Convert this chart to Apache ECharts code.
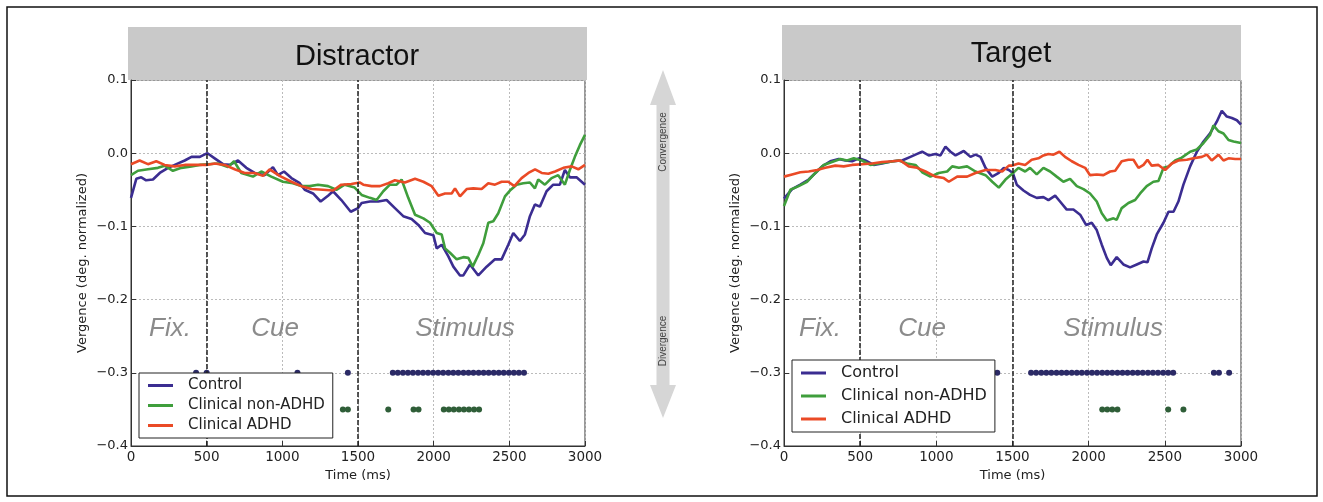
<!DOCTYPE html>
<html>
<head>
<meta charset="utf-8">
<title>Vergence: Distractor / Target</title>
<script src="https://cdn.jsdelivr.net/npm/echarts@6/dist/echarts.min.js"></script>
<style>
  body { margin: 0; background: #fff; }
  #chart { width: 1323px; height: 502px; }
</style>
</head>
<body>
<div id="chart"></div>
<script>
// group names and colours
var groupNames = ['Control', 'Clinical non-ADHD', 'Clinical ADHD'];
var groupColors = ['#3b2d91', '#3f9e3c', '#ea4a26'];

// x / y ticks
var timeTicks = [0, 500, 1000, 1500, 2000, 2500, 3000];
var vergTicks = [-0.4, -0.3, -0.2, -0.1, 0.0, 0.1];
var phaseBounds = [500, 1500];
var phaseNames = ['Fix.', 'Cue', 'Stimulus'];

// ---- Distractor panel: [time ms, vergence] ----
var distControl = [[0,-0.061],[35,-0.035],[68,-0.033],[100,-0.037],[145,-0.036],[190,-0.027],[245,-0.020],[300,-0.015],[355,-0.010],[400,-0.005],[455,-0.005],[505,0.0],[553,-0.007],[608,-0.015],[652,-0.016],[707,-0.010],[762,-0.020],[817,-0.027],[883,-0.030],[938,-0.019],[971,-0.030],[1011,-0.025],[1060,-0.034],[1115,-0.041],[1148,-0.050],[1203,-0.055],[1253,-0.066],[1302,-0.058],[1335,-0.052],[1390,-0.064],[1452,-0.080],[1500,-0.075],[1524,-0.068],[1579,-0.066],[1634,-0.066],[1689,-0.064],[1744,-0.075],[1799,-0.086],[1854,-0.090],[1899,-0.098],[1943,-0.109],[1998,-0.112],[2020,-0.130],[2053,-0.125],[2097,-0.141],[2130,-0.155],[2174,-0.167],[2196,-0.167],[2240,-0.152],[2295,-0.167],[2350,-0.155],[2405,-0.145],[2449,-0.145],[2493,-0.125],[2526,-0.109],[2570,-0.120],[2603,-0.111],[2636,-0.086],[2669,-0.070],[2702,-0.073],[2746,-0.052],[2790,-0.043],[2834,-0.043],[2867,-0.023],[2900,-0.033],[2944,-0.033],[3000,-0.043]];
var distNonAdhd = [[0,-0.030],[46,-0.024],[112,-0.022],[178,-0.020],[222,-0.017],[277,-0.024],[333,-0.020],[399,-0.018],[454,-0.016],[509,-0.015],[575,-0.014],[641,-0.019],[681,-0.011],[729,-0.027],[806,-0.032],[861,-0.025],[927,-0.032],[1004,-0.039],[1070,-0.041],[1126,-0.045],[1181,-0.045],[1236,-0.043],[1302,-0.045],[1357,-0.050],[1412,-0.043],[1478,-0.047],[1524,-0.057],[1579,-0.061],[1623,-0.064],[1667,-0.052],[1711,-0.043],[1755,-0.043],[1788,-0.036],[1832,-0.061],[1877,-0.084],[1932,-0.089],[1976,-0.095],[2020,-0.109],[2053,-0.111],[2075,-0.130],[2108,-0.136],[2152,-0.145],[2196,-0.142],[2229,-0.143],[2258,-0.155],[2295,-0.139],[2328,-0.123],[2361,-0.095],[2394,-0.093],[2427,-0.082],[2471,-0.059],[2504,-0.051],[2548,-0.043],[2592,-0.041],[2636,-0.040],[2669,-0.048],[2691,-0.036],[2735,-0.043],[2779,-0.034],[2823,-0.030],[2867,-0.043],[2900,-0.023],[2933,-0.005],[2966,0.011],[3000,0.025]];
var distAdhd = [[0,-0.015],[57,-0.010],[112,-0.015],[167,-0.011],[222,-0.016],[289,-0.018],[355,-0.016],[421,-0.016],[498,-0.016],[553,-0.014],[619,-0.016],[685,-0.022],[751,-0.027],[817,-0.027],[872,-0.031],[916,-0.022],[982,-0.031],[1060,-0.039],[1126,-0.045],[1192,-0.049],[1269,-0.050],[1335,-0.051],[1390,-0.043],[1456,-0.042],[1511,-0.040],[1535,-0.043],[1590,-0.045],[1645,-0.045],[1700,-0.041],[1744,-0.037],[1810,-0.040],[1877,-0.035],[1932,-0.039],[1987,-0.045],[2031,-0.058],[2075,-0.055],[2119,-0.055],[2141,-0.048],[2174,-0.059],[2218,-0.049],[2262,-0.048],[2317,-0.049],[2361,-0.041],[2405,-0.043],[2449,-0.039],[2493,-0.039],[2533,-0.045],[2581,-0.034],[2626,-0.027],[2670,-0.022],[2714,-0.027],[2758,-0.028],[2802,-0.025],[2857,-0.020],[2912,-0.018],[2956,-0.022],[3000,-0.016]];

// ---- Target panel ----
var targControl = [[0,-0.062],[53,-0.049],[107,-0.043],[162,-0.036],[206,-0.027],[250,-0.018],[304,-0.011],[359,-0.008],[403,-0.010],[447,-0.011],[491,-0.007],[534,-0.010],[589,-0.016],[644,-0.014],[710,-0.011],[775,-0.010],[830,-0.005],[874,-0.001],[907,0.002],[950,-0.003],[994,-0.001],[1027,-0.003],[1060,0.009],[1093,0.002],[1126,-0.003],[1180,0.003],[1224,-0.005],[1257,-0.002],[1290,-0.005],[1323,-0.020],[1367,-0.032],[1410,-0.027],[1443,-0.020],[1476,-0.023],[1502,-0.027],[1528,-0.043],[1572,-0.051],[1615,-0.057],[1659,-0.061],[1703,-0.060],[1736,-0.064],[1780,-0.058],[1812,-0.066],[1856,-0.077],[1900,-0.077],[1944,-0.084],[1983,-0.098],[2020,-0.095],[2053,-0.105],[2086,-0.125],[2119,-0.143],[2145,-0.153],[2184,-0.142],[2228,-0.152],[2272,-0.156],[2316,-0.152],[2360,-0.148],[2386,-0.149],[2414,-0.130],[2447,-0.111],[2491,-0.095],[2524,-0.080],[2557,-0.080],[2589,-0.066],[2622,-0.043],[2666,-0.018],[2710,0.002],[2754,0.016],[2797,0.027],[2841,0.043],[2874,0.058],[2907,0.050],[2940,0.048],[2973,0.045],[3000,0.039]];
var targNonAdhd = [[0,-0.072],[42,-0.050],[96,-0.045],[151,-0.039],[206,-0.027],[261,-0.016],[315,-0.012],[370,-0.008],[414,-0.010],[458,-0.007],[512,-0.010],[567,-0.016],[622,-0.014],[688,-0.012],[753,-0.010],[808,-0.014],[863,-0.016],[907,-0.026],[961,-0.032],[1016,-0.027],[1071,-0.025],[1104,-0.018],[1148,-0.020],[1202,-0.018],[1257,-0.025],[1323,-0.030],[1367,-0.039],[1410,-0.047],[1454,-0.036],[1498,-0.028],[1539,-0.020],[1583,-0.025],[1615,-0.020],[1659,-0.029],[1703,-0.020],[1747,-0.025],[1790,-0.032],[1834,-0.039],[1878,-0.035],[1922,-0.045],[1966,-0.049],[2009,-0.055],[2053,-0.066],[2086,-0.082],[2119,-0.092],[2163,-0.089],[2184,-0.091],[2217,-0.075],[2261,-0.068],[2305,-0.064],[2338,-0.055],[2381,-0.045],[2425,-0.039],[2458,-0.038],[2491,-0.020],[2524,-0.018],[2568,-0.010],[2611,-0.006],[2666,0.002],[2710,0.005],[2754,0.014],[2797,0.025],[2819,0.038],[2852,0.030],[2885,0.027],[2918,0.018],[2951,0.016],[3000,0.014]];
var targAdhd = [[0,-0.032],[53,-0.029],[107,-0.026],[162,-0.025],[217,-0.023],[271,-0.020],[337,-0.017],[392,-0.018],[447,-0.016],[512,-0.015],[578,-0.014],[644,-0.012],[710,-0.011],[764,-0.010],[819,-0.018],[874,-0.020],[929,-0.025],[994,-0.032],[1049,-0.034],[1082,-0.039],[1137,-0.032],[1202,-0.032],[1257,-0.027],[1323,-0.023],[1388,-0.023],[1432,-0.025],[1476,-0.017],[1495,-0.017],[1539,-0.014],[1583,-0.016],[1626,-0.009],[1670,-0.007],[1703,-0.003],[1736,-0.001],[1769,-0.002],[1808,0.002],[1845,-0.005],[1889,-0.011],[1933,-0.016],[1977,-0.020],[2009,-0.030],[2053,-0.029],[2097,-0.030],[2141,-0.025],[2174,-0.024],[2217,-0.011],[2261,-0.009],[2294,-0.009],[2327,-0.020],[2360,-0.016],[2386,-0.009],[2414,-0.017],[2458,-0.016],[2502,-0.023],[2546,-0.014],[2589,-0.010],[2644,-0.009],[2688,-0.007],[2743,-0.005],[2776,-0.002],[2808,-0.010],[2852,-0.002],[2885,-0.010],[2918,-0.007],[2962,-0.008],[3000,-0.008]];

// significance markers (time ms), drawn on fixed rows
var sigRowControl = -0.3;
var sigRowClinical = -0.35;
var distCtrlSig = [430,500,1100,1433,1730,1763,1797,1830,1863,1897,1930,1963,1997,2030,2063,2097,2130,2163,2197,2230,2263,2297,2330,2363,2397,2430,2463,2497,2530,2563,2597];
var distClinSig = [1400,1433,1700,1867,1900,2067,2100,2133,2167,2200,2233,2267,2300];
var targCtrlSig = [1400,1622,1655,1689,1722,1755,1789,1822,1855,1889,1922,1955,1989,2022,2055,2089,2122,2155,2189,2222,2255,2289,2322,2355,2389,2422,2455,2489,2522,2555,2822,2855,2922];
var targClinSig = [2089,2122,2155,2189,2522,2622];

// phase label anchor points [time, vergence] per panel
var distPhasePos = [[258,-0.24],[952,-0.24],[2207,-0.24]];
var targPhasePos = [[236,-0.24],[906,-0.24],[2160,-0.24]];

var myChart = echarts.init(document.getElementById('chart'));

function fmtY(v) {
    return v.toFixed(1).replace('-', '\u2212');
}

function fmtX(v) {
    return String(Math.round(v));
}

function xAxisFor(idx) {
    return {
        gridIndex: idx, type: 'value', min: 0, max: 3000, interval: 500,
        name: 'Time (ms)', nameLocation: 'middle', nameGap: 19,
        nameTextStyle: { fontSize: 13, color: '#222', fontFamily: 'DejaVu Sans' },
        axisLine: { show: true, onZero: false, lineStyle: { color: '#333' } },
        axisTick: { show: true, inside: true, length: 5, lineStyle: { color: '#333' } },
        axisLabel: { fontSize: 13.5, color: '#222', fontFamily: 'DejaVu Sans', margin: 4, formatter: fmtX },
        splitLine: { show: true, lineStyle: { color: '#bbb', type: [2, 2] } }
    };
}

function yAxisFor(idx) {
    return {
        gridIndex: idx, type: 'value', min: -0.4, max: 0.1, interval: 0.1,
        name: 'Vergence (deg. normalized)', nameLocation: 'middle', nameGap: 42,
        nameTextStyle: { fontSize: 13, color: '#222', fontFamily: 'DejaVu Sans' },
        axisLine: { show: true, lineStyle: { color: '#333' } },
        axisTick: { show: true, inside: true, length: 5, lineStyle: { color: '#333' } },
        axisLabel: { fontSize: 13, color: '#222', fontFamily: 'DejaVu Sans', margin: 3, formatter: fmtY },
        splitLine: { show: true, lineStyle: { color: '#bbb', type: [2, 2] } }
    };
}

function lineSeries(name, data, idx, color) {
    return {
        name: name, type: 'line', xAxisIndex: idx, yAxisIndex: idx,
        data: data, showSymbol: false, symbol: 'none',
        lineStyle: { color: color, width: 2.6 }, itemStyle: { color: color },
        z: 3
    };
}

function sigSeries(times, row, idx, color) {
    return {
        name: 'sig', type: 'scatter', xAxisIndex: idx, yAxisIndex: idx,
        data: times.map(function (t) { return [t, row]; }),
        symbolSize: 6, itemStyle: { color: color, opacity: 1 }, z: 2
    };
}

function phaseSeries(pos, idx) {
    return {
        name: 'phase', type: 'scatter', xAxisIndex: idx, yAxisIndex: idx,
        data: pos.map(function (p, i) { return { value: p, name: phaseNames[i] }; }),
        symbolSize: 0, silent: true,
        label: {
            show: true, position: 'inside', formatter: '{b}',
            fontSize: 26, fontStyle: 'italic', color: '#6e6e6e', fontFamily: 'Liberation Sans'
        }
    };
}

function boundSeries(idx) {
    return {
        name: 'bounds', type: 'line', xAxisIndex: idx, yAxisIndex: idx, data: [],
        markLine: {
            silent: true, symbol: ['none', 'none'], label: { show: false },
            lineStyle: { color: '#222', width: 1.5, type: [5, 2] },
            data: phaseBounds.map(function (b) { return { xAxis: b }; })
        }
    };
}

function legendFor(left, top, fs, gap) {
    return {
        data: groupNames, orient: 'vertical', left: left, top: top,
        icon: 'rect', itemWidth: 25, itemHeight: 3, itemGap: gap,
        padding: [5, 8, 5, 9], selectedMode: false,
        backgroundColor: '#fff', borderColor: '#222', borderWidth: 1, borderRadius: 0,
        textStyle: { fontSize: fs, color: '#222', fontFamily: 'DejaVu Sans', padding: [0, 0, 0, 10] },
        z: 10
    };
}

var option = {
    animation: false,
    backgroundColor: '#fff',
    grid: [
        { left: 131, top: 80, width: 454, height: 366, show: true, borderColor: '#333', borderWidth: 1 },
        { left: 784, top: 80, width: 457, height: 366, show: true, borderColor: '#333', borderWidth: 1 }
    ],
    xAxis: [xAxisFor(0), xAxisFor(1)],
    yAxis: [yAxisFor(0), yAxisFor(1)],
    legend: [legendFor(139, 373, 15, 5), legendFor(792, 360, 16, 7)],
    series: [
        boundSeries(0),
        boundSeries(1),
        phaseSeries(distPhasePos, 0),
        phaseSeries(targPhasePos, 1),
        sigSeries(distCtrlSig, sigRowControl, 0, '#2b2a66'),
        sigSeries(distClinSig, sigRowClinical, 0, '#2f5e38'),
        sigSeries(targCtrlSig, sigRowControl, 1, '#2b2a66'),
        sigSeries(targClinSig, sigRowClinical, 1, '#2f5e38'),
        lineSeries(groupNames[0], distControl, 0, groupColors[0]),
        lineSeries(groupNames[1], distNonAdhd, 0, groupColors[1]),
        lineSeries(groupNames[2], distAdhd, 0, groupColors[2]),
        lineSeries(groupNames[0], targControl, 1, groupColors[0]),
        lineSeries(groupNames[1], targNonAdhd, 1, groupColors[1]),
        lineSeries(groupNames[2], targAdhd, 1, groupColors[2])
    ],
    graphic: [
        { type: 'rect', shape: { x: 7, y: 7, width: 1310, height: 489 },
          style: { fill: 'none', stroke: '#111', lineWidth: 1.5 }, z: 0 },
        { type: 'rect', shape: { x: 128, y: 27, width: 459, height: 53 }, style: { fill: '#c9c9c9' }, z: 0 },
        { type: 'rect', shape: { x: 782, y: 25, width: 459, height: 55 }, style: { fill: '#c9c9c9' }, z: 0 },
        { type: 'text', x: 357, y: 57, z: 1,
          style: { text: 'Distractor', fontSize: 29, fontFamily: 'Liberation Sans', fill: '#111', textAlign: 'center', textVerticalAlign: 'middle' } },
        { type: 'text', x: 1011, y: 54, z: 1,
          style: { text: 'Target', fontSize: 29, fontFamily: 'Liberation Sans', fill: '#111', textAlign: 'center', textVerticalAlign: 'middle' } },
        { type: 'polygon', z: 0,
          shape: { points: [[663,70],[676,105],[669.5,105],[669.5,385],[676,385],[663,418],[650,385],[656.5,385],[656.5,105],[650,105]] },
          style: { fill: '#d6d6d6' } },
        { type: 'text', x: 663, y: 142, rotation: Math.PI / 2, z: 1,
          style: { text: 'Convergence', fontSize: 10, fontFamily: 'Liberation Sans', fill: '#444', textAlign: 'center', textVerticalAlign: 'middle' } },
        { type: 'text', x: 663, y: 341, rotation: Math.PI / 2, z: 1,
          style: { text: 'Divergence', fontSize: 10, fontFamily: 'Liberation Sans', fill: '#444', textAlign: 'center', textVerticalAlign: 'middle' } }
    ]
};

myChart.setOption(option);
</script>
</body>
</html>
